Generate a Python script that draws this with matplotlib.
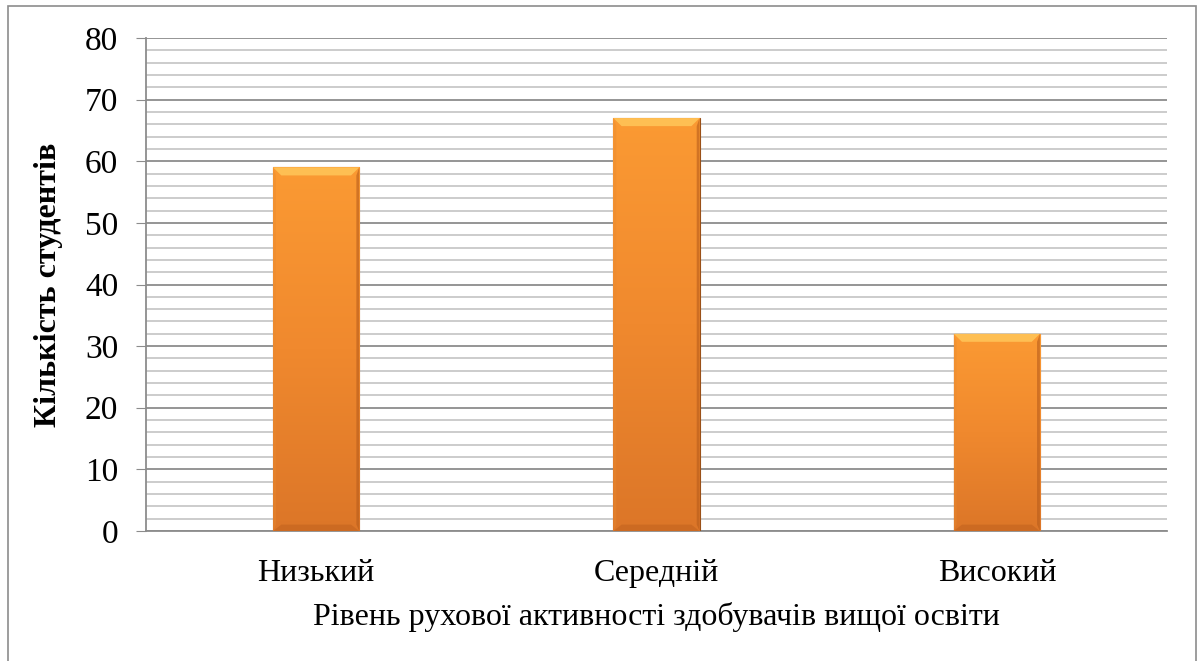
import numpy as np
import matplotlib.pyplot as plt
from matplotlib.patches import Rectangle, Polygon
from matplotlib.colors import LinearSegmentedColormap

levels = ['Низький', 'Середній', 'Високий']
students = [59, 67, 32]

plt.rcParams['font.family'] = ['Liberation Serif', 'DejaVu Serif']

fig = plt.figure(figsize=(11.97, 6.61), dpi=100)
ax = fig.add_axes([146 / 1197, 1 - 531 / 661, (1167 - 146) / 1197, (531 - 38) / 661])

# outer frame of the chart
fig.add_artist(Rectangle((8 / 1197, -0.05), (1196 - 8) / 1197, 1.05 - 6 / 661,
                         transform=fig.transFigure, fill=False,
                         edgecolor='#8c8c8c', linewidth=1.2))

x = np.arange(len(levels))
width = 0.253
bars = ax.bar(x, students, width=width, color='#f39130', edgecolor='#9a5018',
              linewidth=0.8, zorder=3)

# vertical gradient inside each bar
cmap = LinearSegmentedColormap.from_list('orange', ['#dc7628', '#f0892e', '#fb9a33'])
grad = np.linspace(0, 1, 256).reshape(-1, 1)
bx = 0.024   # bevel width in x
by = 1.3     # bevel height in y
for b in bars:
    x0, w, h = b.get_x(), b.get_width(), b.get_height()
    x1 = x0 + w
    im = ax.imshow(grad, extent=(x0, x1, 0, h), origin='lower', cmap=cmap,
                   aspect='auto', zorder=3)
    im.set_clip_path(b)
    # bevelled edges
    ax.add_patch(Polygon([(x0, h), (x1, h), (x1 - bx, h - by), (x0 + bx, h - by)],
                         facecolor='#ffc65a', edgecolor='none', alpha=0.85, zorder=4))
    ax.add_patch(Polygon([(x0, 0), (x1, 0), (x1 - bx, by * 0.8), (x0 + bx, by * 0.8)],
                         facecolor='#c66620', edgecolor='none', alpha=0.7, zorder=4))
    ax.add_patch(Polygon([(x1, 0), (x1, h), (x1 - bx * 0.35, h - by), (x1 - bx * 0.35, by * 0.8)],
                         facecolor='#b85d1c', edgecolor='none', alpha=0.6, zorder=4))
    ax.add_patch(Polygon([(x0, 0), (x0, h), (x0 + bx * 0.35, h - by), (x0 + bx * 0.35, by * 0.8)],
                         facecolor='#e88a30', edgecolor='none', alpha=0.4, zorder=4))

ax.set_xlim(-0.5, 2.5)
ax.set_ylim(0, 80)
ax.set_yticks(np.arange(0, 81, 10))
ax.set_yticks(np.arange(0, 81, 2), minor=True)
ax.grid(axis='y', which='major', color='#8c8c8c', linewidth=1.3, zorder=0)
ax.grid(axis='y', which='minor', color='#c4c4c4', linewidth=1.2, zorder=0)
ax.set_xticks(x)
ax.set_xticklabels(levels, fontsize=23)
ax.tick_params(axis='y', which='major', labelsize=24, length=7, color='#8c8c8c', pad=13)
ax.tick_params(axis='y', which='minor', length=0)
ax.tick_params(axis='x', length=0, pad=20)

for side in ['top', 'right']:
    ax.spines[side].set_visible(False)
for side in ['left', 'bottom']:
    ax.spines[side].set_color('#8c8c8c')
    ax.spines[side].set_linewidth(1.3)

ax.set_xlabel('Рівень рухової активності здобувачів вищої освіти', fontsize=23, labelpad=10)
ax.set_ylabel('Кількість студентів', fontsize=23, fontweight='bold', labelpad=16)

fig.savefig('out.png', dpi=100)
